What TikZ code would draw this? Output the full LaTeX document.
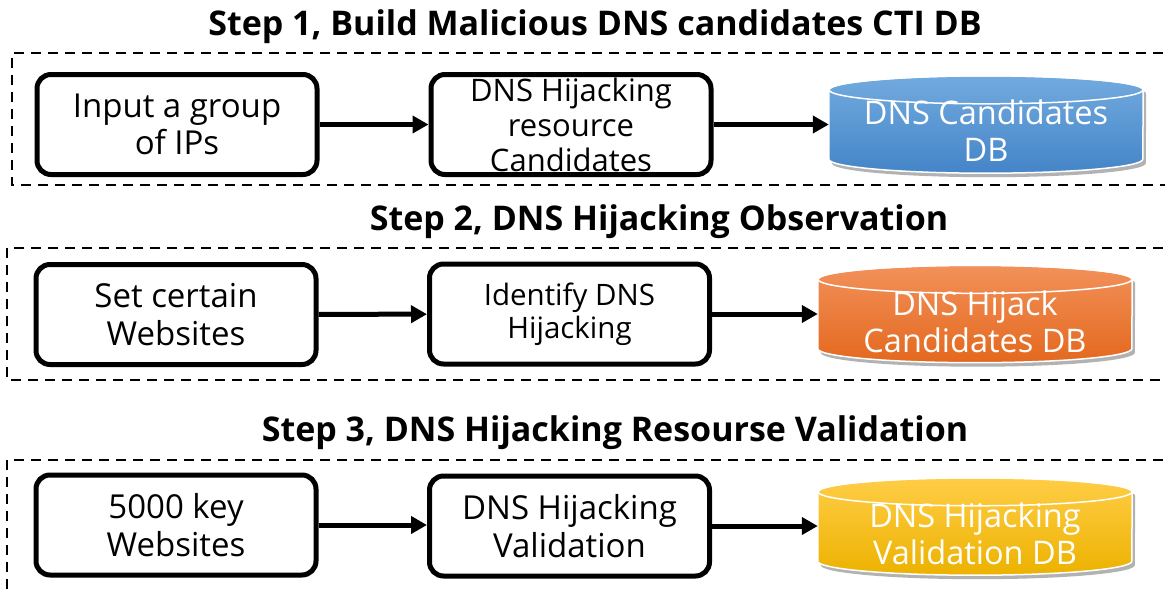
\documentclass[tikz,border=0pt]{standalone}
\usepackage{fontspec}
\setmainfont{Open Sans}
\usetikzlibrary{arrows.meta,backgrounds,shadows,calc}
\definecolor{bluetop}{RGB}{114,170,222}
\definecolor{bluebot}{RGB}{68,133,200}
\definecolor{orgtop}{RGB}{242,145,90}
\definecolor{orgbot}{RGB}{228,104,30}
\definecolor{goldtop}{RGB}{255,205,70}
\definecolor{goldbot}{RGB}{236,178,0}
\newcommand\dbcyl[3]{%
  \begin{scope}[on background layer]
    \path[draw=white, line width=1.5, top color=#2, bottom color=#3,
          drop shadow={shadow xshift=3pt, shadow yshift=-4pt, opacity=0.3, fill=black}]
      ($(#1.north west)+(0,-14)$) -- ($(#1.south west)+(0,14)$)
      arc[start angle=180, end angle=360, x radius=157, y radius=14]
      -- ($(#1.north east)+(0,-14)$)
      arc[start angle=0, end angle=180, x radius=157, y radius=14] -- cycle;
    \draw[white, line width=1.5] ($(#1.north)+(0,-14)$) ellipse[x radius=157, y radius=14];
  \end{scope}}
\begin{document}
\begin{tikzpicture}[x=1pt, y=1pt,
  procbox/.style={draw, line width=5, rounded corners=14, minimum width=280, minimum height=100, align=center, inner sep=0pt},
  dbnode/.style={minimum width=314, minimum height=97, align=center, text=white, inner sep=0pt, font=\fontsize{32.5}{37}\selectfont},
  steptitle/.style={font=\bfseries\fontsize{34}{38}\selectfont, inner sep=0pt},
  groupbox/.style={line width=2.5, dash pattern=on 10pt off 7pt},
  flow/.style={line width=5, -{Triangle[length=16pt, width=17pt]}},
  bodyfont/.style={font=\fontsize{33}{37.5}\selectfont}
]
\useasboundingbox (0,0) rectangle (1165,-590);

% group frames
\draw[groupbox] (1180,-53) -- (12,-53) -- (12,-185) -- (1180,-185);
\draw[groupbox] (1180,-248) -- (7,-248) -- (7,-380) -- (1180,-380);
\draw[groupbox] (1180,-460) -- (7,-460) -- (7,-600);

% titles
\node[steptitle] (t1) at (595,-27) {Step 1, Build Malicious DNS candidates CTI DB};
\node[steptitle] (t2) at (659,-222) {Step 2, DNS Hijacking Observation};
\node[steptitle] (t3) at (615,-433) {Step 3, DNS Hijacking Resourse Validation};

% row 1
\node[procbox, bodyfont] (a1) at (177,-124.5) {Input a group\\of IPs};
\node[procbox, font=\fontsize{31}{35}\selectfont] (b1) at (571,-124.5) {DNS Hijacking\\resource\\Candidates};
\node[dbnode] (c1) at (986,-124.5) {};
\node[text=white, align=center, font=\fontsize{32.5}{37}\selectfont] (c1t) at (986,-131) {DNS Candidates\\DB};
\dbcyl{c1}{bluetop}{bluebot}
\draw[flow] (a1) -- (b1);
\draw[flow] (b1.east) -- (b1.east -| c1.west);

% row 2
\node[procbox, bodyfont] (a2) at (176,-314.5) {Set certain\\Websites};
\node[procbox, font=\fontsize{29.5}{33}\selectfont] (b2) at (569.5,-314) {Identify DNS\\Hijacking};
\node[dbnode] (c2) at (975,-314) {};
\node[text=white, align=center, font=\fontsize{32.5}{37}\selectfont] (c2t) at (975,-322) {DNS Hijack\\Candidates DB};
\dbcyl{c2}{orgtop}{orgbot}
\draw[flow] (a2) -- (b2);
\draw[flow] (b2.east) -- (b2.east -| c2.west);

% row 3
\node[procbox, bodyfont] (a3) at (176,-525) {5000 key\\Websites};
\node[procbox, bodyfont] (b3) at (569.5,-526) {DNS Hijacking\\Validation};
\node[dbnode] (c3) at (975,-526.5) {};
\node[text=white, align=center, font=\fontsize{32.5}{37}\selectfont] (c3t) at (975,-533.5) {DNS Hijacking\\Validation DB};
\dbcyl{c3}{goldtop}{goldbot}
\draw[flow] (a3.east) -- (a3.east -| b3.west);
\draw[flow] (b3.east) -- (b3.east -| c3.west);
\end{tikzpicture}
\end{document}
